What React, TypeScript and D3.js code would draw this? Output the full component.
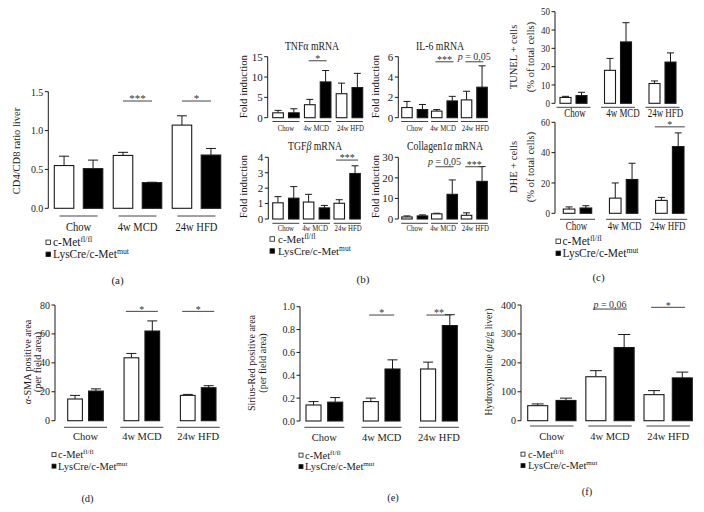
import React from 'react';
import * as d3 from 'd3';

const groups = ['Chow', '4w MCD', '24w HFD'];
const seriesKeys = ['wt', 'mut'];

// (a) CD4/CD8 ratio liver
const aWt = [0.55, 0.68, 1.07];
const aWtErr = [0.12, 0.04, 0.12];
const aMut = [0.51, 0.33, 0.685];
const aMutErr = [0.11, 0.005, 0.085];

// (b) TNFα mRNA
const tnfWt = [1.2, 3.2, 5.9];
const tnfWtErr = [0.6, 1.3, 2.6];
const tnfMut = [1.2, 8.8, 7.4];
const tnfMutErr = [1.0, 2.8, 3.5];
// (b) IL-6 mRNA
const il6Wt = [1.0, 0.65, 1.75];
const il6WtErr = [0.6, 0.15, 0.85];
const il6Mut = [0.8, 1.65, 3.0];
const il6MutErr = [0.5, 0.45, 2.1];
// (b) TGFβ mRNA
const tgfWt = [1.05, 1.1, 1.02];
const tgfWtErr = [0.4, 0.5, 0.23];
const tgfMut = [1.35, 0.72, 2.95];
const tgfMutErr = [0.75, 0.16, 0.5];
// (b) Collagen1α mRNA
const colWt = [1.0, 2.5, 1.8];
const colWtErr = [0.5, 0.3, 1.2];
const colMut = [1.5, 12, 18.3];
const colMutErr = [0.5, 7, 7.2];

// (c) TUNEL + cells
const tunelWt = [3.2, 18, 10.8];
const tunelWtErr = [0.6, 6.5, 1.4];
const tunelMut = [4.2, 33.5, 22.5];
const tunelMutErr = [1.8, 10.5, 5];
// (c) DHE + cells
const dheWt = [2.8, 10, 8.5];
const dheWtErr = [1.4, 10, 2];
const dheMut = [3.5, 22.3, 44];
const dheMutErr = [1.5, 10.7, 9];

// (d) α-SMA positive area
const smaWt = [15, 43.5, 17.5];
const smaWtErr = [2.5, 3, 0.7];
const smaMut = [20.5, 62, 22.8];
const smaMutErr = [1.5, 7, 1.4];

// (e) Sirius-Red positive area
const srWt = [0.14, 0.17, 0.455];
const srWtErr = [0.03, 0.03, 0.06];
const srMut = [0.165, 0.455, 0.835];
const srMutErr = [0.04, 0.08, 0.095];

// (f) Hydroxyproline
const hpWt = [52, 152, 90];
const hpWtErr = [6, 21, 14];
const hpMut = [70, 253, 148];
const hpMutErr = [8, 45, 20];

// tick values
const aTicks = [0, 0.5, 1.0, 1.5];
const tnfTicks = [0, 5, 10, 15];
const il6Ticks = [0, 2, 4, 6];
const tgfTicks = [0, 1, 2, 3, 4];
const colTicks = [0, 10, 20, 30];
const tunelTicks = [0, 10, 20, 30, 40, 50];
const dheTicks = [0, 20, 40, 60];
const smaTicks = [0, 20, 40, 60, 80];
const srTicks = [0, 0.2, 0.4, 0.6, 0.8, 1.0];
const hpTicks = [0, 100, 200, 300, 400];

const FONT = '"Liberation Serif", "Times New Roman", serif';
const INK = '#1a1a1a';
const LINE = '#444';

type Sig = { g: number; v: number; label: string };

interface PanelProps {
  wt: number[]; wtErr: number[]; mut: number[]; mutErr: number[];
  domain: [number, number]; ticks: number[]; fmt?: string;
  yBottom: number; yTop: number; axisX: number;
  x0: number; x1: number; gw: number; bw: number;
  cap: number; tickFs: number; tickSx?: number;
  ulY: number; ulHalf: number; lblY: number; lblFs: number; lblSx?: number; lblDx?: number[];
  sig?: Sig[]; sigHalf?: number; sigFs?: number;
}

function SigLabel({ label }: { label: string }) {
  if (label.startsWith('p')) {
    return (<><tspan fontStyle="italic">p</tspan>{label.slice(1)}</>);
  }
  return <>{label}</>;
}

function Txt({ x, y, sx = 1, fs, anchor = 'middle', dy, children }:
  { x: number; y: number; sx?: number; fs: number; anchor?: string; dy?: string; children: React.ReactNode }) {
  return (
    <text transform={`translate(${x},${y}) scale(${sx},1)`} textAnchor={anchor} dy={dy} fontSize={fs} fill={INK}>
      {children}
    </text>
  );
}

function Panel(p: PanelProps) {
  const y = d3.scaleLinear().domain(p.domain).range([p.yBottom, p.yTop]);
  const S = (p.x1 - p.x0 - p.gw) / (groups.length - 1);
  const gx = d3.scaleBand<string>().domain(groups).range([p.x0, p.x1])
    .paddingInner(1 - p.gw / S).paddingOuter(0);
  const bx = d3.scaleBand<string>().domain(seriesKeys).range([0, gx.bandwidth()])
    .paddingInner((p.gw - 2 * p.bw) / (p.gw - p.bw)).paddingOuter(0);
  const fmt = p.fmt ? d3.format(p.fmt) : (d: number) => String(d);
  const sigFs = p.sigFs ?? 10;
  const bars = groups.flatMap((g, i) => [
    { g, key: 'wt', v: p.wt[i], e: p.wtErr[i], fill: '#fff' },
    { g, key: 'mut', v: p.mut[i], e: p.mutErr[i], fill: '#000' },
  ]);
  return (
    <g>
      <line x1={p.axisX} x2={p.axisX} y1={y(p.domain[0])} y2={y(p.domain[1])} stroke={INK} strokeWidth={1} />
      {p.ticks.map((t) => (
        <g key={t}>
          <line x1={p.axisX - 3.5} x2={p.axisX} y1={y(t)} y2={y(t)} stroke={INK} strokeWidth={1} />
          <Txt x={p.axisX - 5} y={y(t)} dy="0.35em" anchor="end" fs={p.tickFs} sx={p.tickSx ?? 1}>{fmt(t)}</Txt>
        </g>
      ))}
      {bars.map((b) => {
        const x = (gx(b.g) as number) + (bx(b.key) as number);
        const cx = x + bx.bandwidth() / 2;
        return (
          <g key={b.g + b.key}>
            <line x1={cx} x2={cx} y1={y(b.v)} y2={y(b.v + b.e)} stroke={INK} strokeWidth={1} />
            <line x1={cx - p.cap} x2={cx + p.cap} y1={y(b.v + b.e)} y2={y(b.v + b.e)} stroke={INK} strokeWidth={1} />
            <rect x={x} y={y(b.v)} width={bx.bandwidth()} height={y(0) - y(b.v)} fill={b.fill} stroke={INK} strokeWidth={1.1} />
          </g>
        );
      })}
      {groups.map((g, i) => {
        const c = (gx(g) as number) + gx.bandwidth() / 2;
        return (
          <g key={g}>
            <line x1={c - p.ulHalf} x2={c + p.ulHalf} y1={p.ulY} y2={p.ulY} stroke={LINE} strokeWidth={1} />
            <Txt x={c + (p.lblDx ? p.lblDx[i] : 0)} y={p.lblY} fs={p.lblFs} sx={p.lblSx ?? 1}>{g}</Txt>
          </g>
        );
      })}
      {(p.sig || []).map((s, i) => {
        const c = (gx(groups[s.g]) as number) + gx.bandwidth() / 2;
        const ly = y(s.v);
        const isP = s.label.startsWith('p');
        return (
          <g key={i}>
            <line x1={c - (p.sigHalf ?? 10)} x2={c + (p.sigHalf ?? 10)} y1={ly} y2={ly} stroke={LINE} strokeWidth={1} />
            <text x={c} y={isP ? ly - 1.5 : ly + 1.2} textAnchor="middle" fontSize={sigFs} fill="#333">
              <SigLabel label={s.label} />
            </text>
          </g>
        );
      })}
    </g>
  );
}

function YLabel({ x, y, fs, children }: { x: number; y: number; fs: number; children: React.ReactNode }) {
  return (
    <text transform={`translate(${x},${y}) rotate(-90)`} textAnchor="middle" dy="0.35em" fontSize={fs} fill={INK}>
      {children}
    </text>
  );
}

function Legend({ sx, tx, b1, b2, fs, sq }: { sx: number; tx: number; b1: number; b2: number; fs: number; sq: number }) {
  const sup = fs * 0.68;
  return (
    <g>
      <rect x={sx} y={b1 - fs * 0.32 - sq / 2} width={sq} height={sq} fill="#fff" stroke={INK} strokeWidth={0.8} />
      <text x={tx} y={b1} fontSize={fs} fill={INK}>
        c-Met<tspan dy={-fs * 0.36} fontSize={sup}>fl/fl</tspan>
      </text>
      <rect x={sx} y={b2 - fs * 0.32 - sq / 2} width={sq} height={sq} fill="#000" stroke={INK} strokeWidth={0.8} />
      <text x={tx} y={b2} fontSize={fs} fill={INK}>
        LysCre/c-Met<tspan dy={-fs * 0.36} fontSize={sup}>mut</tspan>
      </text>
    </g>
  );
}

export default function App() {
  return (
    <svg width={704} height={512} viewBox="0 0 704 512" style={{ position: 'absolute', left: 0, top: 0, background: '#fff' }} fontFamily={FONT}>
      <rect x={0} y={0} width={704} height={512} fill="#fff" />

      {/* ---------- (a) ---------- */}
      <Panel wt={aWt} wtErr={aWtErr} mut={aMut} mutErr={aMutErr}
        domain={[0, 1.5]} ticks={aTicks} fmt=".1f"
        yBottom={208.3} yTop={91.7} axisX={48.3}
        x0={54.3} x1={220.7} gw={48.5} bw={19.5} cap={5} tickFs={11} tickSx={0.9}
        ulY={216} ulHalf={19} lblY={230.5} lblFs={11.5} lblSx={0.92}
        sig={[{ g: 1, v: 1.38, label: '***' }, { g: 2, v: 1.38, label: '*' }]} sigHalf={14.5} sigFs={11} />
      <YLabel x={16} y={151} fs={10.5}>CD4/CD8 ratio liver</YLabel>
      <Legend sx={46} tx={53} b1={246} b2={258} fs={11.5} sq={4.5} />
      <text x={117.5} y={284} textAnchor="middle" fontSize={11} fill={INK}>(a)</text>

      {/* ---------- (b) ---------- */}
      <Panel wt={tnfWt} wtErr={tnfWtErr} mut={tnfMut} mutErr={tnfMutErr}
        domain={[0, 15]} ticks={tnfTicks}
        yBottom={117.7} yTop={56.7} axisX={267.7}
        x0={272.7} x1={362.7} gw={26.5} bw={10.7} cap={3.5} tickFs={11}
        ulY={121.5} ulHalf={13.5} lblY={130.5} lblFs={7.6} lblSx={0.9} lblDx={[0, -1.5, 1]}
        sig={[{ g: 1, v: 14, label: '*' }]} sigHalf={9} sigFs={10} />
      <Txt x={312} y={49.5} fs={11.5} sx={0.85}>TNFα mRNA</Txt>
      <YLabel x={243.3} y={86.7} fs={10.8}>Fold induction</YLabel>

      <Panel wt={il6Wt} wtErr={il6WtErr} mut={il6Mut} mutErr={il6MutErr}
        domain={[0, 6]} ticks={il6Ticks}
        yBottom={117.7} yTop={56.7} axisX={398.3}
        x0={401.7} x1={487.3} gw={26} bw={10.5} cap={3.5} tickFs={11}
        ulY={121.5} ulHalf={13.5} lblY={130.5} lblFs={7.6} lblSx={0.9} lblDx={[0, -1.5, 1]}
        sig={[{ g: 1, v: 5.5, label: '***' }, { g: 2, v: 5.5, label: 'p = 0,05' }]} sigHalf={9} sigFs={10} />
      <Txt x={440} y={49.5} fs={11.5} sx={0.85}>IL-6 mRNA</Txt>
      <YLabel x={375} y={86.7} fs={10.8}>Fold induction</YLabel>

      <Panel wt={tgfWt} wtErr={tgfWtErr} mut={tgfMut} mutErr={tgfMutErr}
        domain={[0, 4]} ticks={tgfTicks}
        yBottom={219} yTop={157.3} axisX={268.3}
        x0={272.7} x1={360.3} gw={26.3} bw={10.5} cap={3.5} tickFs={11}
        ulY={223.3} ulHalf={13.5} lblY={230.5} lblFs={7.6} lblSx={0.9} lblDx={[0, -1.5, 1]}
        sig={[{ g: 2, v: 3.82, label: '***' }]} sigHalf={11} sigFs={10} />
      <Txt x={315} y={150} fs={11.5} sx={0.85}>TGF<tspan fontStyle="italic">β</tspan> mRNA</Txt>
      <YLabel x={243.3} y={186.7} fs={10.8}>Fold induction</YLabel>

      <Panel wt={colWt} wtErr={colWtErr} mut={colMut} mutErr={colMutErr}
        domain={[0, 30]} ticks={colTicks}
        yBottom={219} yTop={157.3} axisX={398.3}
        x0={401.7} x1={487.3} gw={26} bw={10.5} cap={3.5} tickFs={11}
        ulY={223.3} ulHalf={13.5} lblY={230.5} lblFs={7.6} lblSx={0.9} lblDx={[0, -1.5, 1]}
        sig={[{ g: 1, v: 25.4, label: 'p = 0,05' }, { g: 2, v: 25.4, label: '***' }]} sigHalf={9} sigFs={10} />
      <Txt x={445} y={150} fs={11.5} sx={0.85}>Collagen1<tspan fontStyle="italic">α</tspan> mRNA</Txt>
      <YLabel x={375} y={186.7} fs={10.8}>Fold induction</YLabel>

      <Legend sx={270} tx={278} b1={242.5} b2={254.5} fs={11} sq={4.5} />
      <text x={363} y={283} textAnchor="middle" fontSize={11} fill={INK}>(b)</text>

      {/* ---------- (c) ---------- */}
      <Panel wt={tunelWt} wtErr={tunelWtErr} mut={tunelMut} mutErr={tunelMutErr}
        domain={[0, 50]} ticks={tunelTicks}
        yBottom={103.3} yTop={11.7} axisX={555}
        x0={560} x1={676} gw={27} bw={11} cap={3.5} tickFs={10.5} tickSx={0.85}
        ulY={107.3} ulHalf={17} lblY={117} lblFs={11.5} lblSx={0.78} lblDx={[1.5, 5, 3]} />
      <YLabel x={513} y={57} fs={10.5}>TUNEL + cells</YLabel>
      <YLabel x={530.5} y={57} fs={10.5}>(% of total cells)</YLabel>

      <Panel wt={dheWt} wtErr={dheWtErr} mut={dheMut} mutErr={dheMutErr}
        domain={[0, 60]} ticks={dheTicks}
        yBottom={213.3} yTop={122.3} axisX={555}
        x0={563.3} x1={684} gw={28.4} bw={11.6} cap={3.5} tickFs={10.5} tickSx={0.85}
        ulY={219.3} ulHalf={17.5} lblY={229.5} lblFs={11.5} lblSx={0.78} lblDx={[-1, 1, -2]}
        sig={[{ g: 2, v: 57, label: '*' }]} sigHalf={15} sigFs={10} />
      <YLabel x={513} y={167} fs={10.5}>DHE + cells</YLabel>
      <YLabel x={530.5} y={167} fs={10.5}>(% of total cells)</YLabel>

      <Legend sx={556} tx={562.5} b1={245} b2={257} fs={11.5} sq={4.5} />
      <text x={598.5} y={281} textAnchor="middle" fontSize={11} fill={INK}>(c)</text>

      {/* ---------- (d) ---------- */}
      <Panel wt={smaWt} wtErr={smaWtErr} mut={smaMut} mutErr={smaMutErr}
        domain={[0, 80]} ticks={smaTicks}
        yBottom={420.7} yTop={305} axisX={55}
        x0={67.7} x1={216} gw={35.6} bw={14.7} cap={5} tickFs={10}
        ulY={427.3} ulHalf={21.5} lblY={440} lblFs={10.5}
        sig={[{ g: 1, v: 75.6, label: '*' }, { g: 2, v: 75.6, label: '*' }]} sigHalf={16} sigFs={10} />
      <YLabel x={27.5} y={362} fs={10.2}><tspan fontStyle="italic">α</tspan>-SMA positive area</YLabel>
      <YLabel x={37} y={362} fs={10.2}>(per field area)</YLabel>
      <Legend sx={52} tx={58} b1={458} b2={469.5} fs={10.5} sq={4} />
      <text x={87.5} y={502} textAnchor="middle" fontSize={10.5} fill={INK}>(d)</text>

      {/* ---------- (e) ---------- */}
      <Panel wt={srWt} wtErr={srWtErr} mut={srMut} mutErr={srMutErr}
        domain={[0, 1]} ticks={srTicks} fmt=".1f"
        yBottom={421} yTop={306.7} axisX={300}
        x0={306} x1={457.3} gw={36.7} bw={15} cap={5} tickFs={10}
        ulY={427.3} ulHalf={20} lblY={440.5} lblFs={10.5}
        sig={[{ g: 1, v: 0.927, label: '*' }, { g: 2, v: 0.927, label: '**' }]} sigHalf={12.5} sigFs={10} />
      <YLabel x={251.5} y={363} fs={10}>Sirius-Red positive area</YLabel>
      <YLabel x={262.5} y={363} fs={10}>(per field area)</YLabel>
      <Legend sx={299} tx={305} b1={458.5} b2={470} fs={10.5} sq={4} />
      <text x={393} y={501} textAnchor="middle" fontSize={10.5} fill={INK}>(e)</text>

      {/* ---------- (f) ---------- */}
      <Panel wt={hpWt} wtErr={hpWtErr} mut={hpMut} mutErr={hpMutErr}
        domain={[0, 400]} ticks={hpTicks}
        yBottom={420.7} yTop={305} axisX={521}
        x0={527.7} x1={692.3} gw={48.3} bw={20} cap={6} tickFs={10}
        ulY={426} ulHalf={21.7} lblY={440} lblFs={10.5}
        sig={[{ g: 1, v: 386, label: 'p = 0,06' }, { g: 2, v: 392, label: '*' }]} sigHalf={17} sigFs={10} />
      <YLabel x={488.7} y={362} fs={9.6}>Hydroxyproline (<tspan fontStyle="italic">μ</tspan>g/g liver)</YLabel>
      <Legend sx={521} tx={528} b1={457.5} b2={469} fs={10.5} sq={4} />
      <text x={587} y={495} textAnchor="middle" fontSize={10.5} fill={INK}>(f)</text>
    </svg>
  );
}
